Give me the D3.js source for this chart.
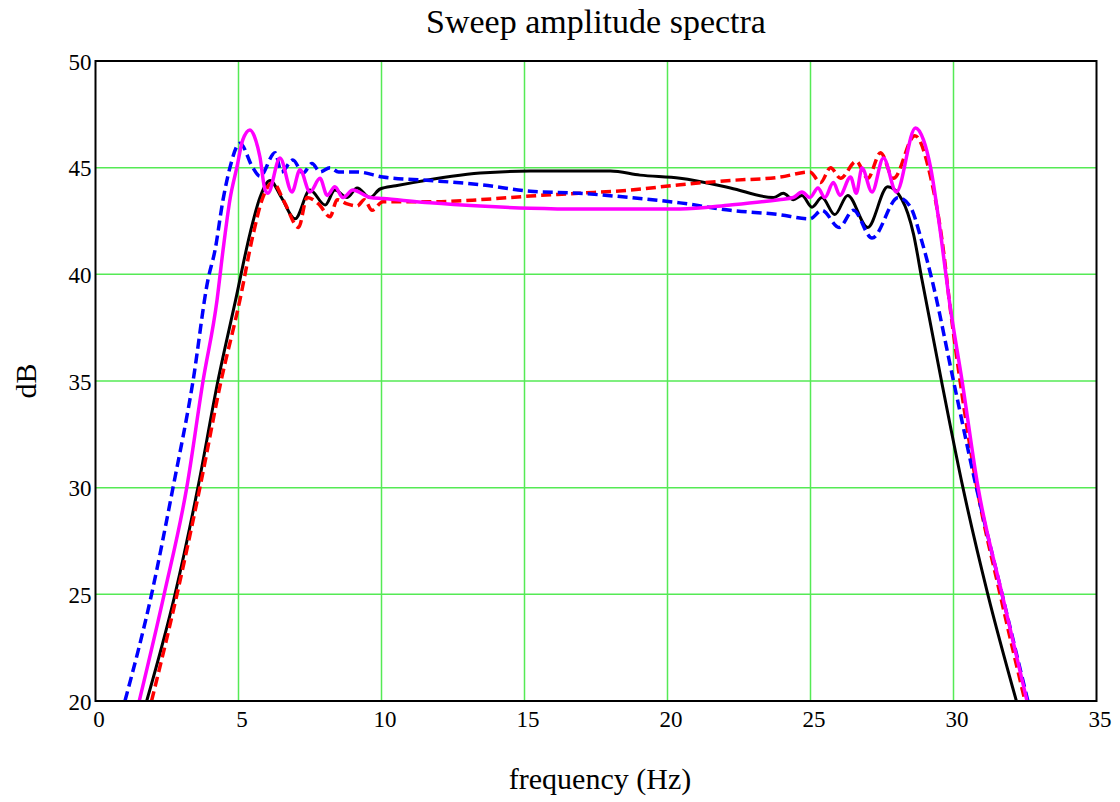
<!DOCTYPE html>
<html>
<head>
<meta charset="utf-8">
<script src="https://cdn.jsdelivr.net/npm/d3@7"></script>
<style>
  body { margin: 0; background: #fff; }
  text { font-family: "Liberation Serif", "Times New Roman", serif; }
</style>
</head>
<body>
<svg id="drawing_region"></svg>
<script>
// tick values
const xTicks = [0, 5, 10, 15, 20, 25, 30, 35];
const yTicks = [20, 25, 30, 35, 40, 45, 50];

// black solid
const blackFreq = [1.79, 2.78, 3.58, 4.28, 4.9, 5.4, 5.75, 6.1, 6.5, 6.98, 7.5, 8.03, 8.37, 8.8, 9.15, 9.6, 9.95, 10.5, 11.1, 13.45, 15.2, 18.0, 19.04, 20.44, 22.2, 23.7, 24.05, 24.4, 24.7, 25.05, 25.4, 25.85, 26.3, 27.0, 27.7, 28.2, 28.6, 28.9, 29.58, 30.33, 31.2, 32.2];
const blackDb   = [20, 25, 30, 35, 38.8, 41.9, 43.6, 44.4, 43.6, 42.6, 43.95, 43.25, 43.95, 43.6, 44.05, 43.6, 44.0, 44.15, 44.3, 44.75, 44.84, 44.84, 44.65, 44.5, 44.05, 43.6, 43.8, 43.5, 43.7, 43.15, 43.6, 42.8, 43.7, 42.2, 44.1, 43.5, 41.9, 39.73, 35, 30, 25, 20];

// red dashed
const redFreq = [1.96, 2.85, 3.65, 4.39, 5.05, 5.5, 5.85, 6.2, 6.6, 7.1, 7.4, 7.8, 8.2, 8.45, 8.8, 9.15, 9.4, 9.67, 10.05, 11.7, 13.45, 15.2, 16.9, 18.7, 20.44, 22.2, 23.9, 24.98, 25.35, 25.7, 26.05, 26.6, 27.0, 27.45, 27.9, 28.65, 29.2, 29.65, 29.85, 30.23, 30.82, 31.63, 32.5];
const redDb   = [20, 25, 30, 35, 38.8, 41.8, 43.6, 44.3, 43.4, 42.2, 43.6, 43.3, 42.7, 43.5, 43.3, 43.2, 43.5, 43.0, 43.4, 43.4, 43.5, 43.67, 43.8, 43.95, 44.2, 44.4, 44.55, 44.8, 44.3, 45.0, 44.5, 45.3, 44.5, 45.7, 44.5, 46.5, 44.56, 41.1, 38.8, 35, 30, 25, 20];

// blue dashed
const blueFreq = [1.03, 1.96, 2.71, 3.41, 3.93, 4.18, 4.46, 4.7, 5.05, 5.5, 5.75, 6.28, 6.5, 6.9, 7.26, 7.57, 7.85, 8.2, 8.5, 9.15, 10.05, 11.7, 13.45, 15.2, 16.9, 18.7, 20.44, 22.2, 23.9, 24.98, 25.4, 26.0, 26.5, 27.15, 28.07, 28.5, 28.85, 29.25, 30.0, 30.8, 31.7, 32.6];
const blueDb   = [20, 25, 30, 35, 39.73, 41.14, 43.5, 45.0, 46.15, 45.0, 44.6, 45.7, 44.8, 45.36, 44.75, 45.2, 44.8, 45.0, 44.8, 44.8, 44.56, 44.4, 44.2, 43.9, 43.8, 43.6, 43.35, 43.0, 42.8, 42.6, 43.0, 42.2, 43.0, 41.7, 43.6, 43.15, 41.75, 39.73, 35, 30, 25, 20];

// magenta solid
const magFreq = [1.53, 2.4, 3.19, 3.76, 4.25, 4.46, 4.7, 4.94, 5.15, 5.4, 5.6, 5.75, 5.93, 6.03, 6.45, 6.87, 7.15, 7.5, 7.85, 8.1, 8.37, 8.65, 9.0, 9.6, 10.05, 11.7, 13.45, 15.2, 17.0, 20.44, 22.2, 23.9, 24.4, 24.7, 24.98, 25.26, 25.5, 25.8, 26.03, 26.4, 26.6, 26.8, 27.15, 27.55, 28.0, 28.67, 28.95, 29.2, 29.55, 29.85, 30.3, 30.86, 31.7, 32.57];
const magDb   = [20, 25, 30, 35, 38.8, 41.14, 43.5, 45.0, 46.3, 46.77, 46.3, 45.5, 43.95, 43.8, 45.45, 43.86, 44.9, 43.86, 44.5, 43.7, 44.1, 43.6, 43.95, 43.6, 43.55, 43.35, 43.2, 43.1, 43.06, 43.06, 43.25, 43.5, 43.6, 43.86, 43.6, 44.05, 43.6, 44.3, 43.7, 44.56, 43.8, 44.98, 43.86, 45.45, 43.86, 46.86, 46.3, 45.0, 41.9, 38.8, 35, 30, 25, 20];

const series = [
    { freq: blackFreq, db: blackDb, color: '#000000', width: 3,   dash: null },
    { freq: redFreq,   db: redDb,   color: '#ff0000', width: 3.5, dash: '10,5' },
    { freq: blueFreq,  db: blueDb,  color: '#0000ff', width: 3.5, dash: '10,5' },
    { freq: magFreq,   db: magDb,   color: '#ff00ff', width: 3.5, dash: null }
];

const width = 1120, height = 802;
const margin = { top: 61, right: 23.5, bottom: 101, left: 95.5 };
const innerW = width - margin.left - margin.right;
const innerH = height - margin.top - margin.bottom;

const svg = d3.select('#drawing_region')
    .attr('width', width)
    .attr('height', height);

const chart = svg.append('g')
    .attr('transform', `translate(${margin.left}, ${margin.top})`);

const xscale = d3.scaleLinear().domain([0, 35]).range([0, innerW]);
const yscale = d3.scaleLinear().domain([20, 50]).range([innerH, 0]);

// grid
chart.append('g')
    .selectAll('line')
    .data(xTicks.slice(1, -1))
    .join('line')
    .attr('x1', d => xscale(d)).attr('x2', d => xscale(d))
    .attr('y1', 0).attr('y2', innerH)
    .attr('stroke', '#55ea55').attr('stroke-width', 1.5);

chart.append('g')
    .selectAll('line')
    .data(yTicks.slice(1, -1))
    .join('line')
    .attr('y1', d => yscale(d)).attr('y2', d => yscale(d))
    .attr('x1', 0).attr('x2', innerW)
    .attr('stroke', '#55ea55').attr('stroke-width', 1.5);

// curves
chart.append('clipPath').attr('id', 'clip')
    .append('rect').attr('width', innerW).attr('height', innerH);

const line = d3.line()
    .x(d => xscale(d[0]))
    .y(d => yscale(d[1]))
    .curve(d3.curveMonotoneX);

const lines = chart.append('g').attr('clip-path', 'url(#clip)');
series.forEach(s => {
    lines.append('path')
        .datum(d3.zip(s.freq, s.db))
        .attr('d', line)
        .attr('fill', 'none')
        .attr('stroke', s.color)
        .attr('stroke-width', s.width)
        .attr('stroke-dasharray', s.dash)
        .attr('stroke-linejoin', 'round');
});

// frame
chart.append('rect')
    .attr('width', innerW).attr('height', innerH)
    .attr('fill', 'none').attr('stroke', '#000').attr('stroke-width', 2);

// axes (labels only)
const xaxis = d3.axisBottom(xscale).tickValues(xTicks).tickSize(0).tickPadding(10);
const yaxis = d3.axisLeft(yscale).tickValues(yTicks).tickSize(0).tickPadding(4);

const xg = chart.append('g')
    .attr('transform', `translate(3, ${innerH})`)
    .call(xaxis);
const yg = chart.append('g').call(yaxis);

[xg, yg].forEach(g => {
    g.select('.domain').remove();
    g.selectAll('text')
        .attr('font-family', '"Liberation Serif", serif')
        .attr('font-size', '23px')
        .attr('fill', '#000');
});
yg.selectAll('text').attr('dy', '0.35em');

// titles
svg.append('text')
    .attr('x', 596).attr('y', 33)
    .attr('text-anchor', 'middle')
    .attr('font-size', '34px')
    .text('Sweep amplitude spectra');

svg.append('text')
    .attr('x', 600).attr('y', 789)
    .attr('text-anchor', 'middle')
    .attr('font-size', '30px')
    .text('frequency (Hz)');

svg.append('text')
    .attr('transform', 'translate(36, 381) rotate(-90)')
    .attr('text-anchor', 'middle')
    .attr('font-size', '30px')
    .text('dB');
</script>
</body>
</html>
